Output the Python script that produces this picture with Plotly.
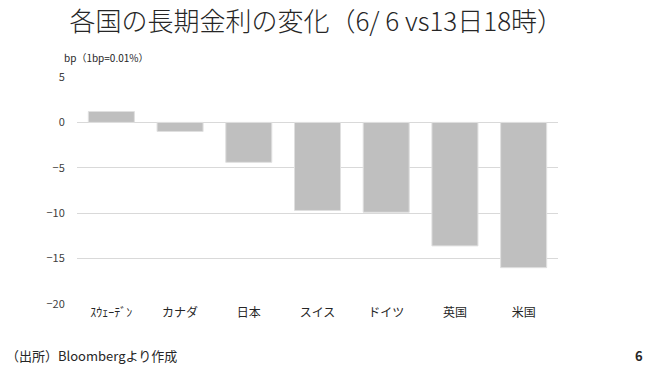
import plotly.graph_objects as go

categories = ["ｽｳｪｰﾃﾞﾝ", "カナダ", "日本", "スイス", "ドイツ", "英国", "米国"]
values = [1.2, -1.0, -4.4, -9.7, -9.9, -13.6, -16.0]
y_ticks = [5, 0, -5, -10, -15, -20]

FONT = "Noto Sans CJK JP"

fig = go.Figure()
fig.add_trace(go.Bar(
    x=categories, y=values,
    marker=dict(color="#bfbfbf", line=dict(color="#e0e0e0", width=1)),
    width=0.67,
))

fig.update_layout(
    width=652, height=373,
    margin=dict(l=77, r=94, t=77, b=69),
    paper_bgcolor="white", plot_bgcolor="white",
    font=dict(family=FONT, color="#404040"),
    showlegend=False,
    title=dict(text="各国の長期金利の変化（6/ 6 vs13日18時）", x=0.485, xanchor="center",
               y=0.94, yanchor="middle",
               font=dict(size=26, color="#262626", family=FONT, weight=300)),
    xaxis=dict(showgrid=False, showline=False, ticks="", tickfont=dict(size=12, color="#262626"),
               zeroline=False),
    yaxis=dict(range=[-20, 5], tickvals=y_ticks, showgrid=True, gridcolor="#d9d9d9", gridwidth=1,
               zeroline=True, zerolinecolor="#d9d9d9", zerolinewidth=1,
               tickfont=dict(size=11, color="#404040"),
               ticks="outside", ticklen=9, tickcolor="rgba(0,0,0,0)"),
    annotations=[
        dict(text="bp（1bp=0.01%）", xref="paper", yref="paper", x=(62 - 77) / 481, y=1.0, yshift=20,
             xanchor="left", yanchor="middle", showarrow=False, font=dict(size=10, color="#262626")),
        dict(text="（出所）Bloombergより作成", xref="paper", yref="paper", x=(4 - 77) / 481,
             y=-(355 - 304) / 227, xanchor="left", yanchor="middle", showarrow=False,
             font=dict(size=13, color="#262626")),
        dict(text="<b>6</b>", xref="paper", yref="paper", x=(645 - 77) / 481,
             y=-(355 - 304) / 227, xanchor="right", yanchor="middle", showarrow=False,
             font=dict(size=13, color="#262626")),
    ],
)

fig.write_html("out.html")
